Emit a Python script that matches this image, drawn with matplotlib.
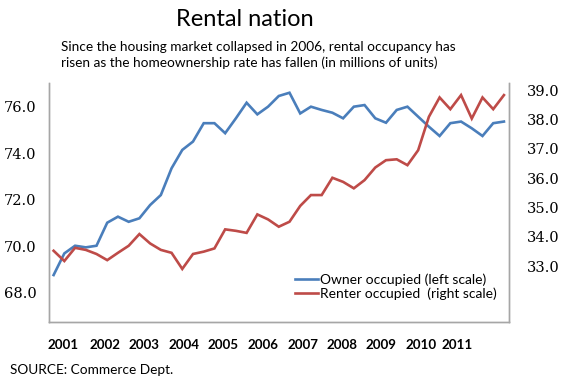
import matplotlib
matplotlib.use("Agg")
import matplotlib.pyplot as plt

# Quarterly data, 2001 onwards (millions of units)
owner_occupied = [68.76, 69.69, 70.02, 69.95, 70.02, 71.01, 71.27, 71.05, 71.20, 71.77,
                  72.20, 73.35, 74.14, 74.50, 75.29, 75.29, 74.86, 75.50, 76.17, 75.67,
                  76.00, 76.46, 76.60, 75.71, 76.00, 75.86, 75.74, 75.50, 76.00, 76.07,
                  75.50, 75.31, 75.86, 76.00, 75.57, 75.14, 74.74, 75.29, 75.36, 75.07,
                  74.74, 75.29, 75.36]
renter_occupied = [33.52, 33.17, 33.62, 33.55, 33.41, 33.20, 33.45, 33.69, 34.09, 33.77,
                   33.55, 33.45, 32.90, 33.41, 33.49, 33.60, 34.25, 34.20, 34.13, 34.76,
                   34.59, 34.34, 34.51, 35.05, 35.42, 35.42, 36.01, 35.87, 35.65, 35.93,
                   36.36, 36.61, 36.64, 36.44, 36.95, 38.09, 38.75, 38.35, 38.83, 38.03,
                   38.75, 38.35, 38.83]
quarters = list(range(len(owner_occupied)))

year_labels = ["2001", "2002", "2003", "2004", "2005", "2006",
               "2007", "2008", "2009", "2010", "2011"]
year_tick_pos = [0.87, 4.84, 8.46, 12.15, 15.84, 19.54, 23.22, 26.88, 30.55, 34.24, 37.66]

left_ticks = [68.0, 70.0, 72.0, 74.0, 76.0]
right_ticks = [33.0, 34.0, 35.0, 36.0, 37.0, 38.0, 39.0]

blue = "#4a7ebb"
red = "#be4b48"
spine_col = "#a6a6a6"

fig = plt.figure(figsize=(5.61, 3.79), dpi=100)
ax = fig.add_axes([49 / 561, 1 - 322 / 379, (509.3 - 49) / 561, (322 - 82.5) / 379])
ax2 = ax.twinx()

l1, = ax.plot(quarters, owner_occupied, color=blue, lw=1.9, solid_joinstyle="miter")
l2, = ax2.plot(quarters, renter_occupied, color=red, lw=1.9, solid_joinstyle="miter")

ax.set_xlim(-0.43, 42.5)
ax.set_ylim(66.74, 77.04)
ax2.set_ylim(31.09, 39.26)

ax.set_yticks(left_ticks)
ax.set_yticklabels([f"{v:.1f}" for v in left_ticks], family="DejaVu Serif", fontsize=10.5)
ax2.set_yticks(right_ticks)
ax2.set_yticklabels([f"{v:.1f}" for v in right_ticks], family="DejaVu Serif", fontsize=10.5)
ax.set_xticks(year_tick_pos)
ax.set_xticklabels(year_labels, family="Lato", fontsize=9.6, fontweight="bold")

ax.tick_params(axis="y", length=0, pad=9)
ax2.tick_params(axis="y", length=0, pad=13)
ax.tick_params(axis="x", length=0, pad=12)

for a in (ax, ax2):
    a.spines["top"].set_visible(False)
    for s in ("left", "right", "bottom"):
        a.spines[s].set_color(spine_col)
        a.spines[s].set_linewidth(1.0)

leg = ax2.legend([l1, l2], ["Owner occupied (left scale)", "Renter occupied  (right scale)"],
                 loc="upper left", bbox_to_anchor=(0.519, 0.232), frameon=False,
                 borderpad=0, handlelength=1.7, handletextpad=0.1, labelspacing=0.08,
                 prop={"family": "Lato", "size": 10})

fig.text(245 / 561, 1 - 19 / 379, "Rental nation", ha="center", va="center",
         family="Lato", fontsize=17)
fig.text(61 / 561, 1 - 47 / 379,
         "Since the housing market collapsed in 2006, rental occupancy has",
         ha="left", va="center", family="Lato", fontsize=9.8)
fig.text(61 / 561, 1 - 63 / 379,
         "risen as the homeownership rate has fallen (in millions of units)",
         ha="left", va="center", family="Lato", fontsize=9.8)
fig.text(10 / 561, 1 - 370 / 379, "SOURCE: Commerce Dept.", ha="left", va="center",
         family="Lato", fontsize=9.8)

fig.savefig("out.png", dpi=100)
